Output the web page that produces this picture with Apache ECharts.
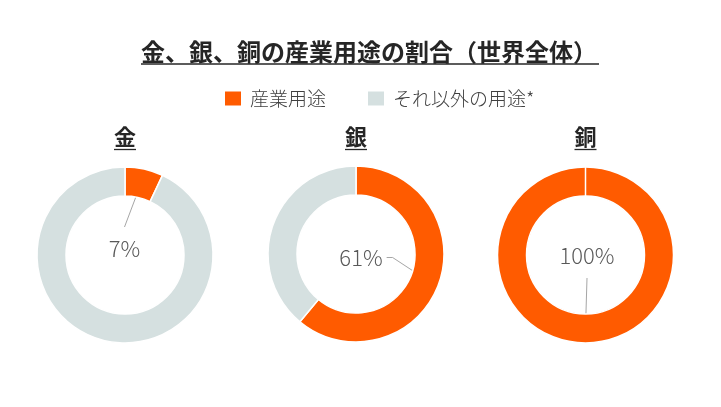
<!DOCTYPE html>
<html><head><meta charset="utf-8">
<script src="https://cdn.jsdelivr.net/npm/echarts@6/dist/echarts.min.js"></script>
<style>html,body{margin:0;padding:0;background:#fff}#c{width:721px;height:407px}</style>
</head><body><div id="c"></div>
<script>
// ---- data ----
const chartTitle = '金、銀、銅の産業用途の割合（世界全体）';
const metals = ['金', '銀', '銅'];
const seriesNames = ['産業用途', 'それ以外の用途*'];
const industrialShare = [7, 61, 100];
const otherShare = [93, 39, 0];

// ---- layout / style ----
const FONT = '"Noto Sans CJK JP", "Noto Sans", sans-serif';
const ORANGE = '#ff5b00';
const GRAY = '#d5e0e0';
const TEXT = '#262626';
const centers = [[125, 255], [356, 254], [585.5, 255]];
const radii = [59, 88];
const labelOffsets = [[-0.5, -6], [5, 3.5], [1.5, 1]];

const chart = echarts.init(document.getElementById('c'), null, {renderer: 'canvas'});

function labelLayout(p) {
  const i = p.seriesIndex;
  if (p.dataIndex !== 0) return {};
  const [cx, cy] = centers[i];
  const total = industrialShare[i] + otherShare[i];
  const theta = industrialShare[i] / total * Math.PI; // mid angle, clockwise from top
  const rm = (radii[0] + radii[1]) / 2;
  const tx = cx + rm * Math.sin(theta), ty = cy - rm * Math.cos(theta);
  const lx = cx + labelOffsets[i][0], ly = cy + labelOffsets[i][1];
  let pts;
  if (Math.abs(ty - ly) > Math.abs(tx - lx)) {
    const s = ty > ly ? 1 : -1;
    const sy = ly + s * 22;
    pts = [[lx, sy], [lx, sy], [tx, ty]];
  } else {
    const s = tx > lx ? 1 : -1;
    const sx = lx + s * (p.labelRect.width / 2 + 4);
    pts = [[sx, ly], [sx + s * 6, ly], [tx, ty]];
  }
  return {x: lx, y: ly, align: 'center', verticalAlign: 'middle', labelLinePoints: pts};
}

const series = metals.map((m, i) => ({
  type: 'pie',
  name: m,
  center: centers[i],
  radius: radii,
  startAngle: 90,
  clockwise: true,
  silent: true,
  animation: false,
  avoidLabelOverlap: false,
  itemStyle: {borderColor: '#ffffff', borderWidth: 1.5},
  label: {show: false},
  labelLine: {show: false},
  labelLayout: labelLayout,
  data: [
    {name: seriesNames[0], value: industrialShare[i], itemStyle: {color: ORANGE},
     label: {show: true, position: 'outside', formatter: '{c}%', color: '#595959',
             fontSize: 22, fontFamily: FONT, fontWeight: 300},
     labelLine: {show: true, lineStyle: {color: '#a6a6a6', width: 1}}},
    {name: seriesNames[1], value: otherShare[i], itemStyle: {color: GRAY}}
  ]
}));

function measure(text, size) {
  const c = document.createElement('canvas').getContext('2d');
  c.font = 'bold ' + size + 'px ' + FONT;
  return c.measureText(text).width;
}

const graphics = [];
function titleWithUnderline(text, cx, cy, size, lineY, extra) {
  const w = measure(text, size);
  graphics.push({type: 'text', x: cx, y: cy, silent: true,
    style: {text: text, fontFamily: FONT, fontSize: size, fontWeight: 'bold', fill: TEXT,
            textAlign: 'center', textVerticalAlign: 'middle', align: 'center', verticalAlign: 'middle'}});
  graphics.push({type: 'line', silent: true,
    shape: {x1: cx - w / 2, y1: lineY, x2: cx + w / 2 + extra, y2: lineY},
    style: {stroke: TEXT, lineWidth: 1.3}});
}
titleWithUnderline(chartTitle, 369, 52, 24, 64, 2);
metals.forEach((m, i) => titleWithUnderline(m, centers[i][0], 137, 22, 149.5, 0));

chart.setOption({
  backgroundColor: '#ffffff',
  legend: {
    data: seriesNames, top: 84, left: 218, icon: 'rect',
    itemWidth: 18, itemHeight: 16, itemGap: 40,
    textStyle: {fontFamily: FONT, fontSize: 19, color: '#404040', fontWeight: 300, padding: [0, 0, 0, 3]}
  },
  graphic: graphics,
  series: series
});
</script>
</body></html>
